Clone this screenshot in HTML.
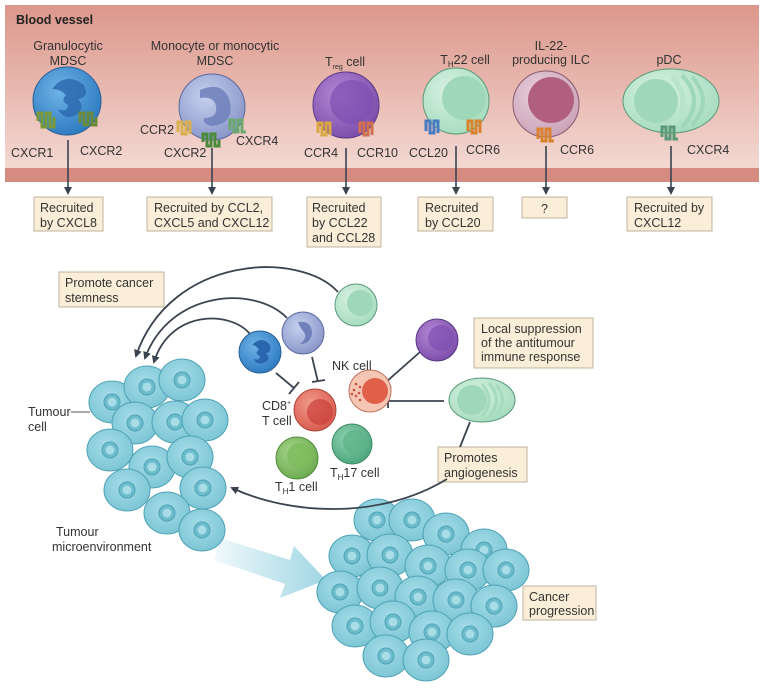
<!DOCTYPE html>
<html><head><meta charset="utf-8"><style>
html,body{margin:0;padding:0;background:#fff}
svg{display:block}
text{font-family:"Liberation Sans",sans-serif;fill:#333}
</style></head><body>
<svg width="764" height="690" viewBox="0 0 764 690" xmlns="http://www.w3.org/2000/svg">
<defs>
<linearGradient id="bv" x1="0" y1="0" x2="0" y2="1"><stop offset="0" stop-color="#dc978b"/><stop offset="1" stop-color="#f3d8d2"/></linearGradient>
<radialGradient id="gB" cx=".4" cy=".35" r=".7"><stop offset="0" stop-color="#6fb4e6"/><stop offset="1" stop-color="#2b78c0"/></radialGradient>
<radialGradient id="gM" cx=".4" cy=".35" r=".7"><stop offset="0" stop-color="#c6d0ee"/><stop offset="1" stop-color="#8794c8"/></radialGradient>
<radialGradient id="gP" cx=".4" cy=".35" r=".7"><stop offset="0" stop-color="#b58ad6"/><stop offset="1" stop-color="#7a4aa8"/></radialGradient>
<radialGradient id="gG" cx=".4" cy=".35" r=".7"><stop offset="0" stop-color="#d8f2e2"/><stop offset="1" stop-color="#a4dbbd"/></radialGradient>
<radialGradient id="gI" cx=".4" cy=".35" r=".7"><stop offset="0" stop-color="#e8d0dc"/><stop offset="1" stop-color="#caa2b6"/></radialGradient>
<radialGradient id="gR" cx=".4" cy=".35" r=".7"><stop offset="0" stop-color="#f09a8a"/><stop offset="1" stop-color="#d9584c"/></radialGradient>
<radialGradient id="gGr" cx=".4" cy=".35" r=".7"><stop offset="0" stop-color="#a7d68a"/><stop offset="1" stop-color="#6aa94e"/></radialGradient>
<radialGradient id="gT" cx=".4" cy=".35" r=".7"><stop offset="0" stop-color="#8ed1ae"/><stop offset="1" stop-color="#4aa57c"/></radialGradient>
<radialGradient id="tc" cx=".45" cy=".4" r=".7"><stop offset="0" stop-color="#a6dde8"/><stop offset="1" stop-color="#76c2d2"/></radialGradient>
<linearGradient id="bigA" x1="0" y1="0" x2="1" y2="0"><stop offset="0" stop-color="#eef8fb"/><stop offset="1" stop-color="#8fcfdf"/></linearGradient>
<marker id="ah" markerWidth="8" markerHeight="8" refX="6" refY="4" orient="auto" markerUnits="userSpaceOnUse"><path d="M0,0 L8,4 L0,8 z" fill="#3a4450"/></marker>
<g id="tcell"><ellipse rx="23" ry="21" fill="url(#tc)" stroke="#4fa3b6" stroke-width="1"/><circle r="8" fill="#6cbccc" stroke="#4fa3b6"/><circle r="4.5" fill="#a8dce6"/></g>
</defs>

<rect x="5" y="5" width="754" height="163" fill="url(#bv)"/>
<rect x="5" y="168" width="754" height="14" fill="#d58b80"/>
<text x="16" y="24" font-size="12.5" font-weight="bold" style="fill:#222">Blood vessel</text>

<g font-size="12.5" text-anchor="middle">
<text x="68" y="50">Granulocytic</text><text x="68" y="65">MDSC</text>
<text x="215" y="50">Monocyte or monocytic</text><text x="215" y="65">MDSC</text>
<text x="345" y="66">T<tspan font-size="7" dy="3">reg</tspan><tspan dy="-3"> cell</tspan></text>
<text x="465" y="64">T<tspan font-size="8" dy="3">H</tspan><tspan dy="-3">22 cell</tspan></text>
<text x="551" y="50">IL-22-</text><text x="551" y="64">producing ILC</text>
<text x="669" y="64">pDC</text>
</g>

<g transform="translate(0,3)">
<circle cx="67" cy="98" r="34" fill="url(#gB)" stroke="#2a5f95"/>
<path d="M52,86 q14,-18 32,-4 q6,12 -6,14 q8,8 -2,16 q-12,6 -18,-6 q10,4 10,-4 q-8,-4 -2,-10 q-6,-6 -14,-6z" fill="#2a66ad" opacity=".8"/>
<path d="M38,118 l0,-8 l4,0 l0,14 l4,0 l0,-14 l4,0 l0,14 l4,0 l0,-10" stroke="#7a9a3a" fill="none" stroke-width="3"/>
<path d="M80,120 l0,-10 l4,0 l0,12 l4,0 l0,-12 l4,0 l0,12 l4,0 l0,-8" stroke="#6a8a3a" fill="none" stroke-width="3"/>
</g>
<g transform="translate(0,10)">
<circle cx="212" cy="97" r="33" fill="url(#gM)" stroke="#5a6aa0"/>
<path d="M200,80 q24,-10 30,12 q4,22 -18,24 q-10,-2 -8,-8 q14,0 12,-12 q-2,-10 -16,-8z" fill="#6f80bb" opacity=".85"/>
<g fill="none" stroke-width="3">
<path d="M178,122 l0,-10 l4,0 l0,12 l4,0 l0,-12 l4,0 l0,12" stroke="#d9b050"/>
<path d="M203,132 l0,-8 l4,0 l0,12 l4,0 l0,-12 l4,0 l0,12 l4,0 l0,-6" stroke="#4a8a3a"/>
<path d="M230,120 l0,-10 l4,0 l0,12 l4,0 l0,-12 l4,0 l0,12 l4,0" stroke="#6aa870"/>
</g></g>
<g transform="translate(0,9)">
<circle cx="346" cy="96" r="33" fill="url(#gP)" stroke="#5b3a86"/>
<circle cx="352" cy="93" r="22" fill="#7d4fb0" opacity=".7"/>
<path d="M318,124 l0,-10 l4,0 l0,12 l4,0 l0,-12 l4,0 l0,12" stroke="#d9a840" fill="none" stroke-width="3"/>
<path d="M360,124 l0,-10 l4,0 l0,12 l4,0 l0,-12 l4,0 l0,12" stroke="#d07050" fill="none" stroke-width="3"/>
</g>
<g transform="translate(0,5)">
<circle cx="456" cy="96" r="33" fill="url(#gG)" stroke="#5a9a78"/>
<circle cx="464" cy="93" r="22" fill="#9fd8b8"/>
<path d="M426,126 l0,-10 l4,0 l0,12 l4,0 l0,-12 l4,0 l0,12" stroke="#4a7ac0" fill="none" stroke-width="3"/>
<path d="M468,126 l0,-10 l4,0 l0,12 l4,0 l0,-12 l4,0 l0,12" stroke="#d9822e" fill="none" stroke-width="3"/>
</g>
<g transform="translate(0,5)">
<circle cx="546" cy="99" r="33" fill="url(#gI)" stroke="#8a5a72"/>
<circle cx="551" cy="95" r="23" fill="#b0607e"/>
<path d="M538,134 l0,-10 l4,0 l0,12 l4,0 l0,-12 l4,0 l0,12 l4,0" stroke="#d9822e" fill="none" stroke-width="3"/>
</g>
<g transform="translate(-4,3)">
<ellipse cx="675" cy="98" rx="48" ry="32" fill="url(#gG)" stroke="#5a9a78"/>
<circle cx="660" cy="98" r="22" fill="#9fd8b8"/>
<path d="M676,74 q22,24 0,48" stroke="#b7e4cb" stroke-width="5" fill="none"/>
<path d="M686,72 q24,26 0,52" stroke="#9fd8b8" stroke-width="4" fill="none"/>
<path d="M696,74 q22,24 0,48" stroke="#9fd8b8" stroke-width="4" fill="none"/>
<path d="M666,134 l0,-10 l4,0 l0,12 l4,0 l0,-12 l4,0 l0,12 l4,0" stroke="#5a9a78" fill="none" stroke-width="3"/>
</g>

<g font-size="12.5">
<text x="11" y="157">CXCR1</text><text x="80" y="155">CXCR2</text>
<text x="140" y="134">CCR2</text><text x="164" y="157">CXCR2</text><text x="236" y="145">CXCR4</text>
<text x="304" y="157">CCR4</text><text x="357" y="157">CCR10</text>
<text x="409" y="157">CCL20</text><text x="466" y="154">CCR6</text>
<text x="560" y="154">CCR6</text><text x="687" y="154">CXCR4</text>
</g>

<g stroke="#3a4450" stroke-width="1.6" marker-end="url(#ah)">
<line x1="68" y1="140" x2="68" y2="193"/><line x1="212" y1="148" x2="212" y2="193"/>
<line x1="346" y1="148" x2="346" y2="193"/><line x1="456" y1="146" x2="456" y2="193"/>
<line x1="546" y1="146" x2="546" y2="193"/><line x1="671" y1="146" x2="671" y2="193"/>
</g>

<g fill="#fbeed8" stroke="#bfb39c">
<rect x="34" y="197" width="69" height="34"/><rect x="147" y="197" width="125" height="34"/>
<rect x="307" y="197" width="74" height="50"/><rect x="418" y="197" width="75" height="34"/>
<rect x="522" y="197" width="45" height="21"/><rect x="627" y="197" width="85" height="34"/>
<rect x="59" y="272" width="105" height="35"/><rect x="474" y="318" width="119" height="50"/>
<rect x="438" y="447" width="89" height="35"/><rect x="523" y="586" width="73" height="34"/>
</g>
<g font-size="12.5">
<text x="40" y="212">Recruited</text><text x="40" y="227">by CXCL8</text>
<text x="154" y="212">Recruited by CCL2,</text><text x="154" y="227">CXCL5 and CXCL12</text>
<text x="312" y="212">Recruited</text><text x="312" y="227">by CCL22</text><text x="312" y="242">and CCL28</text>
<text x="425" y="212">Recruited</text><text x="425" y="227">by CCL20</text>
<text x="541" y="213">?</text>
<text x="634" y="212">Recruited by</text><text x="634" y="227">CXCL12</text>
<text x="65" y="287">Promote cancer</text><text x="65" y="302">stemness</text>
<text x="481" y="333">Local suppression</text><text x="481" y="347">of the antitumour</text><text x="481" y="361">immune response</text>
<text x="444" y="462">Promotes</text><text x="444" y="477">angiogenesis</text>
<text x="529" y="601">Cancer</text><text x="529" y="615">progression</text>
</g>

<path d="M220,538 L290,560 L294,546 L326,580 L280,598 L285,584 L214,560 z" fill="url(#bigA)" opacity=".85"/>

<g>
<use href="#tcell" x="112" y="402"/><use href="#tcell" x="147" y="387"/><use href="#tcell" x="182" y="380"/>
<use href="#tcell" x="135" y="423"/><use href="#tcell" x="175" y="422"/><use href="#tcell" x="205" y="420"/>
<use href="#tcell" x="110" y="450"/><use href="#tcell" x="152" y="467"/><use href="#tcell" x="190" y="457"/>
<use href="#tcell" x="127" y="490"/><use href="#tcell" x="203" y="488"/><use href="#tcell" x="167" y="513"/>
<use href="#tcell" x="202" y="530"/>
</g>
<g>
<use href="#tcell" x="377" y="520"/><use href="#tcell" x="412" y="520"/><use href="#tcell" x="446" y="534"/><use href="#tcell" x="484" y="550"/>
<use href="#tcell" x="352" y="556"/><use href="#tcell" x="390" y="555"/><use href="#tcell" x="428" y="566"/><use href="#tcell" x="468" y="570"/><use href="#tcell" x="506" y="570"/>
<use href="#tcell" x="340" y="592"/><use href="#tcell" x="380" y="588"/><use href="#tcell" x="418" y="597"/><use href="#tcell" x="456" y="600"/><use href="#tcell" x="494" y="606"/>
<use href="#tcell" x="355" y="626"/><use href="#tcell" x="393" y="622"/><use href="#tcell" x="432" y="632"/><use href="#tcell" x="470" y="634"/>
<use href="#tcell" x="386" y="656"/><use href="#tcell" x="426" y="660"/>
</g>

<text x="28" y="416" font-size="12.5">Tumour</text><text x="28" y="431" font-size="12.5">cell</text>
<line x1="71" y1="412" x2="90" y2="412" stroke="#555"/>
<text x="56" y="536" font-size="12.5">Tumour</text><text x="52" y="551" font-size="12.5">microenvironment</text>

<g fill="none" stroke="#3a4450" stroke-width="1.8">
<path d="M338,292 C300,250 170,255 136,356" marker-end="url(#ah)"/>
<path d="M287,318 C255,285 170,290 145,358" marker-end="url(#ah)"/>
<path d="M250,334 C230,310 170,310 154,362" marker-end="url(#ah)"/>
<path d="M447,479 C380,520 290,515 232,488" marker-end="url(#ah)"/>
<path d="M312,357 L318,382 M312,382 L325,380"/>
<path d="M276,373 L294,388 M289,394 L299,382"/>
<path d="M420,352 L386,382 M381,376 L391,388"/>
<path d="M444,401 L388,401 M388,394 L388,408"/>
<path d="M470,422 L460,447"/>
</g>

<circle cx="356" cy="305" r="21" fill="url(#gG)" stroke="#5a9a78"/><circle cx="360" cy="303" r="13" fill="#9fd8b8"/>
<circle cx="303" cy="333" r="21" fill="url(#gM)" stroke="#5a6aa0"/><path d="M298,322 q14,-2 14,12 q-2,10 -12,10 q8,-6 4,-12 q-4,-4 -6,-10z" fill="#6f80bb"/>
<circle cx="260" cy="352" r="21" fill="url(#gB)" stroke="#2a5f95"/><path d="M252,345 q10,-10 18,0 q2,8 -4,8 q6,6 -2,10 q-8,2 -10,-4 q6,2 6,-3 q-6,-3 -1,-6 q-3,-5 -7,-5z" fill="#2a66ad"/>
<circle cx="437" cy="340" r="21" fill="url(#gP)" stroke="#5b3a86"/><circle cx="441" cy="338" r="13" fill="#7d4fb0" opacity=".7"/>
<ellipse cx="482" cy="400" rx="33" ry="22" fill="url(#gG)" stroke="#5a9a78"/><circle cx="472" cy="400" r="15" fill="#9fd8b8"/>
<path d="M482,384 q14,16 0,32 M489,383 q15,17 0,34 M496,385 q13,15 0,30" stroke="#a4dbbd" stroke-width="3" fill="none"/>
<circle cx="370" cy="391" r="21" fill="#f5c6b4" stroke="#c0705a"/><circle cx="375" cy="391" r="13" fill="#e0604a"/>
<g fill="#c8503e"><circle cx="356" cy="384" r="1.3"/><circle cx="354" cy="390" r="1.3"/><circle cx="356" cy="396" r="1.3"/><circle cx="360" cy="387" r="1.3"/><circle cx="359" cy="393" r="1.3"/><circle cx="360" cy="400" r="1.3"/><circle cx="352" cy="394" r="1.3"/></g>
<circle cx="315" cy="410" r="21" fill="url(#gR)" stroke="#a8453a"/><circle cx="320" cy="412" r="13" fill="#c9403a" opacity=".7"/>
<circle cx="297" cy="458" r="21" fill="url(#gGr)" stroke="#4f8a3a"/><circle cx="300" cy="456" r="13" fill="#7cbc5c" opacity=".8"/>
<circle cx="352" cy="444" r="20" fill="url(#gT)" stroke="#3f8a64"/><circle cx="355" cy="442" r="12" fill="#5eb48a" opacity=".8"/>

<g font-size="12.5">
<text x="332" y="370">NK cell</text>
<text x="262" y="410">CD8<tspan font-size="7" dy="-5">+</tspan></text><text x="262" y="425">T cell</text>
<text x="275" y="491">T<tspan font-size="8" dy="3">H</tspan><tspan dy="-3">1 cell</tspan></text>
<text x="330" y="477">T<tspan font-size="8" dy="3">H</tspan><tspan dy="-3">17 cell</tspan></text>
</g>
</svg>
</body></html>
